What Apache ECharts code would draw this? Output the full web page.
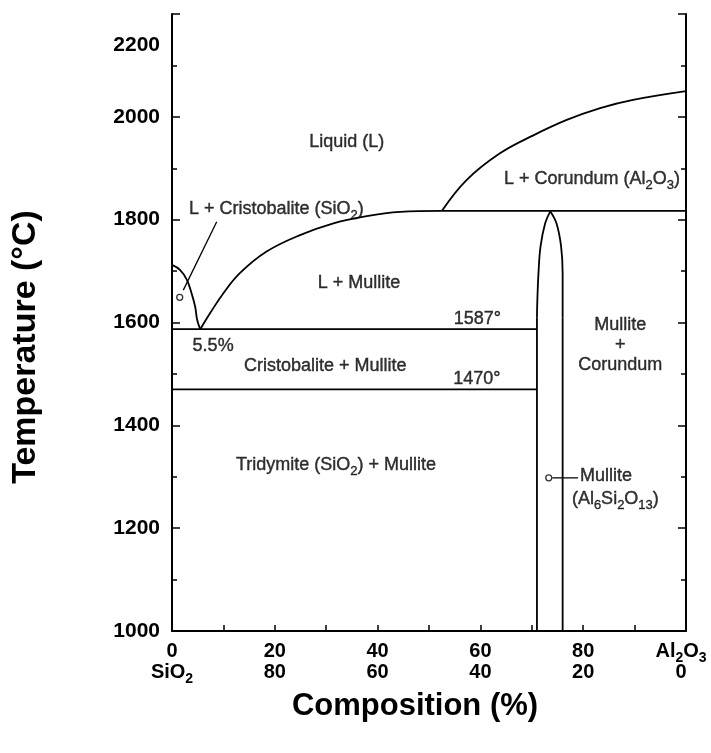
<!DOCTYPE html>
<html><head><meta charset="utf-8">
<script src="https://cdn.jsdelivr.net/npm/echarts@6/dist/echarts.min.js"></script>
<style>html,body{margin:0;padding:0;background:#fff}#c{width:711px;height:753px}</style>
</head><body><div id="c"></div>
<script>
// ---- data (composition wt% Al2O3, temperature °C) ----
const cristobaliteLiquidus = [[0,1712],[1.6,1702],[2.9,1683],[3.8,1657],[4.5,1631],[4.9,1605],[5.5,1587]];
const mulliteLiquidus = [[5.5,1587],[7.4,1618],[10,1657],[13.2,1696],[18.4,1738],[24.9,1770],[31.4,1793],[37.9,1807],[44.4,1815],[52.5,1817]];
const corundumLiquidus = [[52.5,1817],[57.3,1877],[63.8,1929],[70.3,1964],[76.8,1994],[83.3,2017],[89.7,2033],[100,2050]];
const peritecticLine = [[52.5,1817],[100,1817]];
const eutecticLine = [[0,1587],[71,1587]];
const tridymiteLine = [[0,1470],[71,1470]];
const mulliteDomeLeft = [[73.6,1816],[72.6,1793],[71.7,1748],[71.3,1696],[71.1,1650],[71.0,1610]];
const mulliteDomeRight = [[73.6,1816],[74.8,1793],[75.7,1748],[76.0,1696],[76.0,1650],[76.0,1610]];
const mulliteLeftBoundary = [[71.0,1610],[71.0,1000]];
const mulliteRightBoundary = [[76.0,1610],[76.0,1000]];
const markerPoints = [[1.5,1649],[73.3,1298]];
const leaderCristobalite = [[2.2,1663],[8.7,1796]];
const leaderMullite = [[74.0,1298],[79.0,1298]];
const yTicks = [1000,1200,1400,1600,1800,2000,2200];
const xTickTop = ['0','20','40','60','80','Al₂O₃'];
const xTickBottom = ['SiO₂','80','60','40','20','0'];
// region labels: text, composition, temperature
const centeredLabels = [
  ['Liquid (L)', 34.0, 1949],
  ['L + Cristobalite (SiO₂)', 20.3, 1819],
  ['L + Corundum (Al₂O₃)', 81.7, 1877],
  ['L + Mullite', 36.4, 1675],
  ['1587°', 59.4, 1605],
  ['5.5%', 8.0, 1553],
  ['Cristobalite + Mullite', 29.8, 1514],
  ['1470°', 59.3, 1488],
  ['Mullite\n+\nCorundum', 87.2, 1554],
  ['Tridymite (SiO₂) + Mullite', 31.9, 1321]
];
const leftLabels = [
  ['Mullite', 79.4, 1300],
  ['(Al₆Si₂O₁₃)', 77.8, 1255]
];

const FONT = "'Liberation Sans', Arial, sans-serif";
// turn Unicode subscript digits into rich-text subscript tokens
function toRich(str, n, s, lastPad){
  return str.split('\n').map(function(line){
    const parts = line.match(/[\u2080-\u2089]+|[^\u2080-\u2089]+/g) || [];
    return parts.map(function(p, k){
      const isSub = /[\u2080-\u2089]/.test(p);
      const txt = isSub ? p.replace(/[\u2080-\u2089]/g, c => String.fromCharCode(c.charCodeAt(0)-0x2080+48)) : p;
      const key = (isSub ? s : n) + (lastPad && k===parts.length-1 ? 'P' : '');
      return '{'+key+'|'+txt+'}';
    }).join('');
  }).join('\n');
}

const chart = echarts.init(document.getElementById('c'));
const lineStyle = {color:'#000', width:1.8};
function line(data, smooth){
  return {type:'line', data, smooth: smooth ? 0.4 : false, symbol:'none', lineStyle, silent:true, z:3};
}
const regN = {fontFamily:FONT, fontSize:18, color:'#000', lineHeight:20, verticalAlign:'top', textBorderColor:'#000', textBorderWidth:0.4};
const regS = {fontFamily:FONT, fontSize:13, color:'#000', lineHeight:13, verticalAlign:'top', padding:[9,0,0,0], textBorderColor:'#000', textBorderWidth:0.4};
const regionRich = {n:regN, s:regS};
const tickN = {fontFamily:FONT, fontSize:20, fontWeight:'bold', color:'#000', lineHeight:21, verticalAlign:'top'};
const tickS = {fontFamily:FONT, fontSize:14, fontWeight:'bold', color:'#000', lineHeight:14, verticalAlign:'top', padding:[10,0,0,0]};

chart.setOption({
  animation:false,
  backgroundColor:'#fff',
  grid:{left:172, right:25, top:14, bottom:122, show:false, containLabel:false, outerBoundsMode:'none'},
  xAxis:{
    type:'value', min:0, max:100, interval:20,
    axisLine:{show:true, lineStyle:{color:'#000', width:2}},
    axisTick:{show:true, inside:true, length:6, lineStyle:{color:'#000', width:1.5}},
    minorTick:{show:true, splitNumber:2, length:6, lineStyle:{color:'#000', width:1.5}},
    splitLine:{show:false},
    axisLabel:{
      margin:10, fontFamily:FONT, fontSize:20, fontWeight:'bold', color:'#000', lineHeight:21,
      formatter:function(v){
        const i=Math.round(v/20);
        if(i===xTickTop.length-1) return toRich(xTickTop[i],'n','s',true)+'\n{z|'+xTickBottom[i]+'}';
        return toRich(xTickTop[i],'n','s')+'\n'+toRich(xTickBottom[i],'n','s');
      },
      rich:{
        n:tickN, s:tickS,
        nP:tickN,
        sP:{...tickS, padding:[10,10,0,0]},
        z:{...tickN, padding:[0,10,0,0]}
      }
    }
  },
  yAxis:[{
    type:'value', min:1000, max:2200, interval:200, position:'left',
    axisLine:{show:true, lineStyle:{color:'#000', width:2}},
    axisTick:{show:true, inside:true, length:8, lineStyle:{color:'#000', width:1.5}},
    minorTick:{show:true, splitNumber:2, length:5, lineStyle:{color:'#000', width:1.5}},
    splitLine:{show:false},
    axisLabel:{
      margin:12, fontFamily:FONT, fontSize:21, fontWeight:'bold', color:'#000',
      formatter:function(v){ return v===yTicks[yTicks.length-1] ? '{t|'+v+'}' : String(v); },
      rich:{t:{fontFamily:FONT, fontSize:21, fontWeight:'bold', color:'#000', padding:[62,0,0,0]}}
    }
  },{
    type:'value', min:1000, max:2200, interval:200, position:'right',
    axisLine:{show:true, onZero:false, lineStyle:{color:'#000', width:2}},
    axisTick:{show:true, inside:true, length:8, lineStyle:{color:'#000', width:1.5}},
    minorTick:{show:true, splitNumber:2, length:5, lineStyle:{color:'#000', width:1.5}},
    splitLine:{show:false},
    axisLabel:{show:false}
  }],
  graphic:[
    {type:'text', x:26, y:347, rotation:Math.PI/2, silent:true,
     style:{text:'Temperature (°C)', x:0, y:0, font:"bold 34px "+FONT, fill:'#000', textAlign:'center', textVerticalAlign:'middle'}},
    {type:'text', x:415, y:706, silent:true,
     style:{text:'Composition (%)', x:0, y:0, font:"bold 31px "+FONT, fill:'#000', textAlign:'center', textVerticalAlign:'middle'}}
  ],
  series:[
    line(cristobaliteLiquidus, true),
    line(mulliteLiquidus, true),
    line(corundumLiquidus, true),
    line(peritecticLine, false),
    line(eutecticLine, false),
    line(tridymiteLine, false),
    line(mulliteDomeLeft, true),
    line(mulliteDomeRight, true),
    line(mulliteLeftBoundary, false),
    line(mulliteRightBoundary, false),
    {type:'line', data:leaderCristobalite, symbol:'none', lineStyle:{color:'#000', width:1.3}, z:3},
    {type:'line', data:leaderMullite, symbol:'none', lineStyle:{color:'#000', width:1.3}, z:3},
    {type:'scatter', data:markerPoints, symbol:'circle', symbolSize:6,
     itemStyle:{color:'#fff', borderColor:'#000', borderWidth:1.3}, z:5},
    {type:'scatter', symbolSize:0, z:6,
     data:centeredLabels.map(d=>({value:[d[1],d[2]], name:d[0]})),
     label:{show:true, position:'inside', formatter:p=>toRich(p.name,'n','s'), rich:regionRich, align:'center', verticalAlign:'middle'}},
    {type:'scatter', symbolSize:0, z:6,
     data:leftLabels.map(d=>({value:[d[1],d[2]], name:d[0]})),
     label:{show:true, position:'inside', formatter:p=>toRich(p.name,'n','s'), rich:regionRich, align:'left', verticalAlign:'middle'}}
  ]
});
</script>
</body></html>
